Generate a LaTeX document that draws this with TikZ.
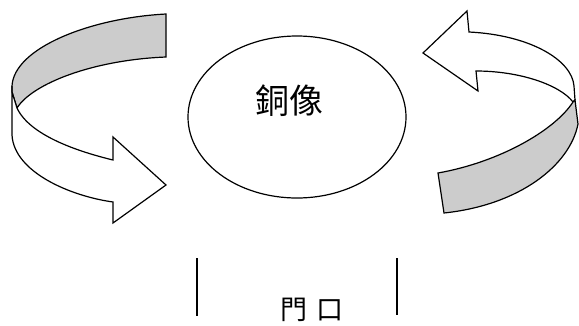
\documentclass[tikz,border=0pt]{standalone}
\usepackage{fontspec}
\newfontfamily\cjk{Noto Sans CJK TC}
\usetikzlibrary{shapes.geometric}
\definecolor{ribbongray}{RGB}{204,204,204}
\tikzset{
  outline/.style={draw=black, line width=1.2pt, line join=miter},
  backside/.style={outline, fill=ribbongray},
  frontside/.style={outline, fill=white},
  doorline/.style={draw=black, line width=1.3pt},
  bigtext/.style={font=\cjk\fontsize{34}{36}\selectfont, inner sep=0pt},
  doortext/.style={font=\cjk\fontsize{27}{29}\selectfont, inner sep=0pt}
}
\begin{document}
\begin{tikzpicture}[x=1pt,y=-1pt]
\useasboundingbox (0,0) rectangle (579,325);
% statue
\node[ellipse, draw=black, line width=1.2pt, minimum width=218pt, minimum height=162pt, inner sep=0pt] (statue) at (297,117) {};
\node[bigtext] (statuetext) at (289,101) {銅像};
% left curved arrow
\path[backside] (166,14) .. controls (90,18) and (14,48) .. (12,86) -- (12,92) -- (17,108)
   .. controls (32,84) and (92,60) .. (166,57) -- cycle;
\path[frontside] (12,86) -- (12,135) .. controls (14,172) and (70,196) .. (113,202)
   -- (113,223) -- (166,185) -- (113,137) -- (113,160)
   .. controls (80,152) and (30,136) .. (17,108) -- (12,92) -- cycle;
% right curved arrow
\path[frontside] (469,32) -- (467,11) -- (423,53) -- (478,91) -- (476,71)
   .. controls (520,71) and (560,85) .. (573,102) -- (575,100) -- (574,86)
   .. controls (572,60) and (530,35) .. cycle;
\path[backside] (573,102) .. controls (555,130) and (500,162) .. (438,173)
   -- (444,213) .. controls (520,205) and (570,165) .. (578,124) -- (575,100) -- cycle;
% door
\coordinate (dl1) at (197,258); \coordinate (dl2) at (197,316);
\coordinate (dr1) at (397,258); \coordinate (dr2) at (397,315);
\draw[doorline] (dl1) -- (dl2);
\draw[doorline] (dr1) -- (dr2);
\node[doortext] (doortext) at (312,310) {門\hspace{9pt}口};
\end{tikzpicture}
\end{document}
